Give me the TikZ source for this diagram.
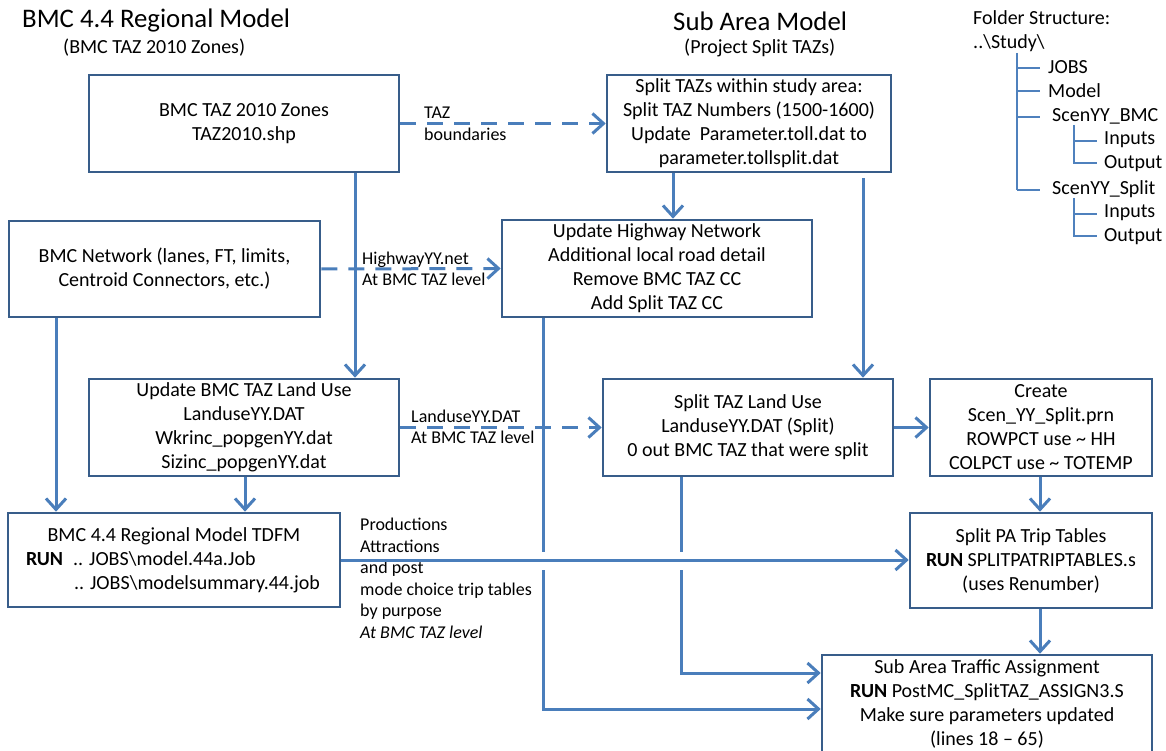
\documentclass[tikz,border=0pt]{standalone}
\usepackage{fontspec}
\setmainfont{Carlito}
\usetikzlibrary{arrows.meta}
\definecolor{lineblue}{HTML}{4A7EBB}
\definecolor{boxblue}{HTML}{385D8A}
\definecolor{treeblue}{HTML}{4F81BD}
\tikzset{
  box/.style={draw=boxblue, line width=2.6pt, fill=white, align=center, inner sep=0pt,
    font=\fontsize{20}{24}\selectfont},
  conn/.style={draw=lineblue, line width=3pt,
    -{Straight Barb[length=11pt,width=20pt]}},
  dconn/.style={conn, dash pattern=on 16pt off 11pt},
  plain/.style={draw=lineblue, line width=3pt},
  lbl/.style={font=\fontsize{18}{21.5}\selectfont, align=left, inner sep=0pt},
  ttl/.style={font=\fontsize{26.8}{30}\selectfont, inner sep=0pt, anchor=west},
  sub/.style={font=\fontsize{20}{24}\selectfont, inner sep=0pt, anchor=west},
  tr/.style={font=\fontsize{20}{24}\selectfont, inner sep=0pt, anchor=west},
  treeline/.style={draw=treeblue, line width=1.5pt}
}
\begin{document}
\begin{tikzpicture}[x=1pt,y=-1pt]
\useasboundingbox[fill=white] (0,0) rectangle (1166,751);

% titles
\node[ttl] (t1) at (22,21) {BMC 4.4 Regional Model};
\node[sub] (s1) at (63,48) {(BMC TAZ 2010 Zones)};
\node[ttl] (t2) at (673,21) {Sub Area Model};
\node[sub] (s2) at (684,48) {(Project Split TAZs)};

% folder structure
\node[tr] (f0) at (973,18) {Folder Structure:};
\node[tr] (f1) at (973,43) {..\textbackslash Study\textbackslash};
\node[tr] (f2) at (1048,67) {JOBS};
\node[tr] (f3) at (1048,91) {Model};
\node[tr] (f4) at (1052,116) {ScenYY\_BMC};
\node[tr] (f5) at (1104,140) {Inputs};
\node[tr] (f6) at (1104,164) {Output};
\node[tr] (f7) at (1052,189) {ScenYY\_Split};
\node[tr] (f8) at (1104,213) {Inputs};
\node[tr] (f9) at (1104,237) {Output};
\draw[treeline] (1017,53) -- (1017,190);
\draw[treeline] (1017,68) -- (1040,68);
\draw[treeline] (1017,91) -- (1040,91);
\draw[treeline] (1017,117) -- (1040,117);
\draw[treeline] (1017,190) -- (1040,190);
\draw[treeline] (1074,125) -- (1074,163) -- (1097,163);
\draw[treeline] (1074,141) -- (1097,141);
\draw[treeline] (1074,198) -- (1074,236) -- (1097,236);
\draw[treeline] (1074,214) -- (1097,214);

% boxes
\node[box, minimum width=310pt, minimum height=97pt] (b1) at (244,123.5)
  {BMC TAZ 2010 Zones\\TAZ2010.shp};
\node[box, minimum width=284pt, minimum height=97pt] (b2) at (749,123.5)
  {Split TAZs within study area:\\Split TAZ Numbers (1500-1600)\\Update\ \ Parameter.toll.dat to\\parameter.tollsplit.dat};
\node[box, minimum width=311pt, minimum height=96pt] (b3) at (164.5,269)
  {BMC Network (lanes, FT, limits,\\Centroid Connectors, etc.)};
\node[box, minimum width=310pt, minimum height=97pt] (b4) at (657,268.5)
  {Update Highway Network\\Additional local road detail\\Remove BMC TAZ CC\\Add Split TAZ CC};
\node[box, minimum width=310pt, minimum height=97pt] (b5) at (244,427.5)
  {Update BMC TAZ Land Use\\LanduseYY.DAT\\Wkrinc\_popgenYY.dat\\Sizinc\_popgenYY.dat};
\node[box, minimum width=290pt, minimum height=97pt] (b6) at (748,427.5)
  {Split TAZ Land Use\\LanduseYY.DAT (Split)\\0 out BMC TAZ that were split};
\node[box, minimum width=222pt, minimum height=97pt] (b7) at (1041,427.5)
  {Create\\Scen\_YY\_Split.prn\\ROWPCT use \textasciitilde{} HH\\COLPCT use \textasciitilde{} TOTEMP};
\node[box, minimum width=332pt, minimum height=94pt] (b8) at (174,560)
  {BMC 4.4 Regional Model TDFM\\
   \makebox[296pt][l]{\textbf{RUN}\hspace{10pt}.. JOBS\textbackslash model.44a.Job}\\
   \makebox[296pt][l]{\hspace{48pt}.. JOBS\textbackslash modelsummary.44.job}};
\node[box, minimum width=242pt, minimum height=95pt] (b9) at (1031,560.5)
  {Split PA Trip Tables\\\textbf{RUN} SPLITPATRIPTABLES.s\\(uses Renumber)};
\node[box, minimum width=330pt, minimum height=98pt] (b10) at (987,704)
  {Sub Area Traffic Assignment\\\textbf{RUN} PostMC\_SplitTAZ\_ASSIGN3.S\\Make sure parameters updated\\(lines 18 -- 65)};

% labels
\node[lbl, anchor=west] (l1) at (424,124) {TAZ\\boundaries};
\node[lbl, anchor=west] (l2) at (362,269) {HighwayYY.net\\At BMC TAZ level};
\node[lbl, anchor=west] (l3) at (411,427) {LanduseYY.DAT\\At BMC TAZ level};
\node[lbl, anchor=north west] (l4) at (360,518)
  {Productions\\Attractions\\and post\\mode choice trip tables\\by purpose\\\textit{At BMC TAZ level}};

% helper coordinates
\coordinate (x56) at (56,0);
\coordinate (x245) at (245,0);
\coordinate (x355) at (355,0);
\coordinate (x673) at (673,0);
\coordinate (x863) at (863,0);
\coordinate (x1040) at (1040,0);
\coordinate (ga1) at (543,552);
\coordinate (gb1) at (543,570);
\coordinate (c1) at (543,709);
\coordinate (ga2) at (681,552);
\coordinate (gb2) at (681,570);
\coordinate (c2) at (681,673);

% connectors
\draw[dconn] (b1.east) -- (b2.west);
\draw[conn] (b1.south -| x355) -- (b5.north -| x355);
\draw[dconn] (b3.east) -- (b4.west);
\draw[conn] (b2.south -| x673) -- (b4.north -| x673);
\draw[conn, shorten <=5pt] (b2.south -| x863) -- (b6.north -| x863);
\draw[conn] (b3.south -| x56) -- (b8.north -| x56);
\draw[conn] (b5.south -| x245) -- (b8.north -| x245);
\draw[dconn] (b5.east) -- (b6.west);
\draw[conn] (b6.east) -- (b7.west);
\draw[conn] (b7.south -| x1040) -- (b9.north -| x1040);
\draw[conn] (b8.east) -- (b8.east -| b9.west);
\draw[conn] (b9.south -| x1040) -- (b10.north -| x1040);
\draw[conn] (b4.south -| ga1) -- (ga1) (gb1) -- (c1) -- (c1 -| b10.west);
\draw[conn] (b6.south -| ga2) -- (ga2) (gb2) -- (c2) -- (c2 -| b10.west);
\end{tikzpicture}
\end{document}
